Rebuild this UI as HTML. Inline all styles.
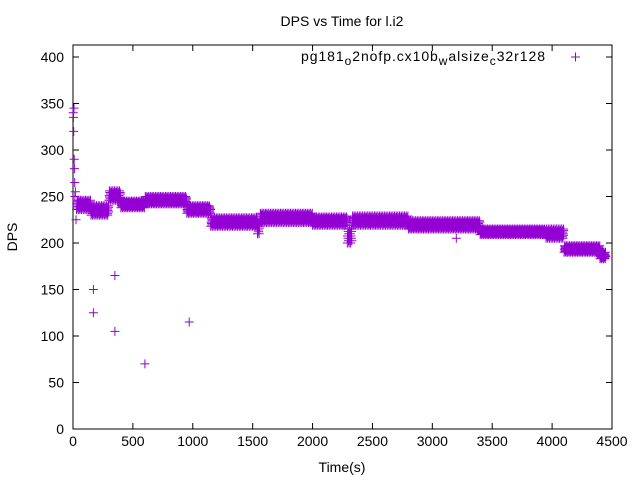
<!DOCTYPE html>
<html><head><meta charset="utf-8"><style>
body{margin:0;background:#fff}
svg text{font-family:"Liberation Sans",sans-serif;font-size:14px;fill:#000}
</style></head><body>
<svg id="chart" width="640" height="480" xmlns="http://www.w3.org/2000/svg">
<text x="342" y="26" text-anchor="middle">DPS vs Time for l.i2</text>
<text transform="translate(17,237) rotate(-90)" text-anchor="middle">DPS</text>
<text x="342" y="472" text-anchor="middle">Time(s)</text>
<g id="axes"></g>
<g id="marks"></g>
<g>
<text x="301" y="61" textLength="244" lengthAdjust="spacing">pg181<tspan font-size="12" dy="4">o</tspan><tspan dy="-4">2nofp.cx10b</tspan><tspan font-size="12" dy="4">w</tspan><tspan dy="-4">alsize</tspan><tspan font-size="12" dy="4">c</tspan><tspan dy="-4">32r128</tspan></text>
<path d="M571 57h9M575.5 52.5v9" stroke="#9400d3" stroke-width="1"/>
</g>
</svg>
<script>
const xTicks=[0,500,1000,1500,2000,2500,3000,3500,4000,4500];
const yTicks=[0,50,100,150,200,250,300,350,400];
// segments: [tStart, tEnd, low, high]
const segStart=[30,150,300,400,600,950,1150,1540,1560,2000,2290,2330,2800,3400,3950,4100,4400];
const segEnd  =[150,300,400,600,950,1150,1540,1560,2000,2290,2330,2800,3400,3950,4100,4400,4450];
const segLow  =[236,230,246,238,242,232,218,210,222,219,200,219,215,209,205,190,183];
const segHigh =[246,240,256,245,250,240,227,222,232,228,215,229,224,215,215,197,190];
// early spikes and outliers
const extraT=[2,4,6,8,10,12,14,16,20,25,170,170,350,350,600,970,3200];
const extraV=[340,335,320,345,290,280,265,250,255,225,150,125,165,105,70,115,205];
const X0=73,X1=612,Y0=429,Y1=45,XMAX=4500,YMAX=400*(Y0-Y1)/(Y0-57);
const sx=t=>X0+t/XMAX*(X1-X0);
const sy=v=>Y0-v/YMAX*(Y0-Y1);
const NS='http://www.w3.org/2000/svg';
const axes=document.getElementById('axes'),marks=document.getElementById('marks');
function mk(tag,attrs,parent){const e=document.createElementNS(NS,tag);for(const k in attrs)e.setAttribute(k,attrs[k]);parent.appendChild(e);return e;}
const frame=mk('rect',{x:X0,y:Y1,width:X1-X0,height:Y0-Y1,fill:'none',stroke:'#000','stroke-width':1},axes);


xTicks.forEach(t=>{
  const p=mk('path',{d:`M${sx(t)} ${Y0}v-6M${sx(t)} ${Y1}v6`,stroke:'#000'},axes);
  
  
  const tx=mk('text',{x:sx(t),y:Y0+17,'text-anchor':'middle'},axes);tx.textContent=t;
  
  
});
yTicks.forEach(v=>{
  const p=mk('path',{d:`M${X0} ${sy(v)}h6M${X1} ${sy(v)}h-6`,stroke:'#000'},axes);
  
  
  const tx=mk('text',{x:X0-9,y:sy(v)+5,'text-anchor':'end'},axes);tx.textContent=v;
  
  
});
let d='';
function plus(t,v){const x=sx(t),y=sy(v);d+=`M${(x-4.5).toFixed(1)} ${y.toFixed(1)}h9M${x.toFixed(1)} ${(y-4.5).toFixed(1)}v9`;}
segStart.forEach((s,i)=>{
  let k=0;
  for(let t=s;t<segEnd[i];t+=2,k++){
    const span=segHigh[i]-segLow[i];
    const v=segLow[i]+span*((k*3)%7)/6;
    plus(t,v);
  }
});
extraT.forEach((t,i)=>plus(t,extraV[i]));
const path=mk('path',{d:d,stroke:'#9400d3','stroke-width':1,fill:'none'},marks);


</script>
</body></html>
